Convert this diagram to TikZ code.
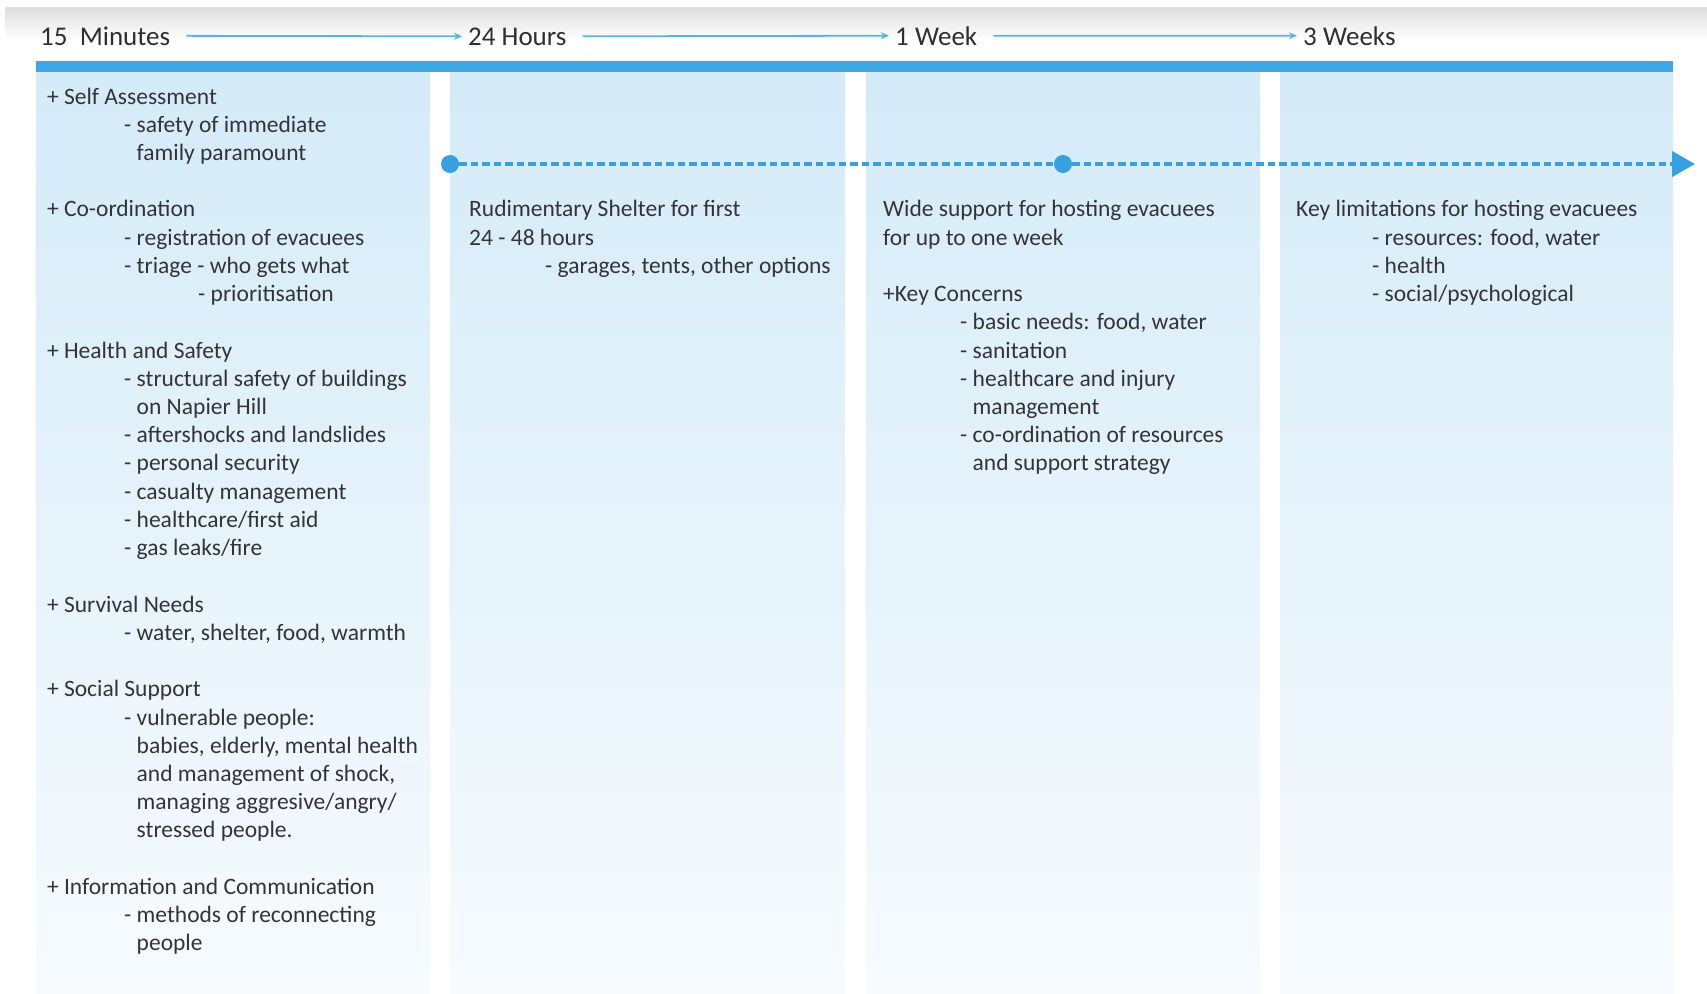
\documentclass[tikz,border=0pt]{standalone}
\usepackage{fontspec}
\setmainfont{Carlito}
\usetikzlibrary{arrows.meta}
\definecolor{barblue}{RGB}{62,168,230}
\definecolor{dashblue}{RGB}{55,160,224}
\definecolor{colTop}{RGB}{212,235,248}
\definecolor{colBot}{RGB}{247,251,254}
\definecolor{txtgray}{RGB}{52,52,56}
\definecolor{hdrline}{RGB}{86,184,214}
\definecolor{greyTop}{RGB}{222,222,222}
\tikzset{
  txt/.style={anchor=base west, inner sep=0pt, text=txtgray, font=\fontsize{23.5}{28}\selectfont},
  hdr/.style={anchor=base west, inner sep=0pt, text=txtgray!90!black, font=\fontsize{27}{32}\selectfont},
  hdrarrow/.style={draw=hdrline, line width=1.8pt, -{Stealth[length=8pt,width=7pt]}, shorten <=16pt, shorten >=6pt},
  column/.style={top color=colTop, bottom color=colBot, draw=none},
  dot/.style={circle, fill=dashblue, minimum size=18pt, inner sep=0pt},
  dashedline/.style={draw=dashblue, line width=4pt, dash pattern=on 7.5pt off 4pt},
}
\newcommand\tline[4]{\node[txt] (#1) at (#2,{104+28.23*#3}) {#4};}
\begin{document}
\begin{tikzpicture}[x=1pt,y=-1pt]
\useasboundingbox (0,0) rectangle (1707,993);
% top grey band
\fill[top color=greyTop, bottom color=white] (5,7) rectangle (1707,40);
% columns
\fill[column] (36,72) rectangle (430,993);
\fill[column] (450,72) rectangle (845,993);
\fill[column] (866,72) rectangle (1260,993);
\fill[column] (1280,72) rectangle (1673,993);
% blue bar
\fill[barblue] (36,61) rectangle (1673,72);
% header
\node[hdr] (h1) at (40,45) {15~~Minutes};
\node[hdr] (h2) at (468,45) {24 Hours};
\node[hdr] (h3) at (895,45) {1 Week};
\node[hdr] (h4) at (1303,45) {3 Weeks};
\draw[hdrarrow] (h1.east) -- (h2.west);
\draw[hdrarrow] (h2.east) -- (h3.west);
\draw[hdrarrow] (h3.east) -- (h4.west);
% dashed timeline
\node[dot] (d1) at (450,164) {};
\node[dot] (d2) at (1063,164) {};
\coordinate (dend) at (1695,164);
\draw[dashedline] (d1) -- (d2);
\draw[dashedline, -{Triangle[length=23pt,width=25pt]}] (d2) -- (dend);
% column 1
\tline{a0}{46.8}{0}{+ Self Assessment}
\tline{a1}{124}{1}{- safety of immediate}
\tline{a2}{124}{2}{\phantom{- }family paramount}
\tline{a4}{46.8}{4}{+ Co-ordination}
\tline{a5}{124}{5}{- registration of evacuees}
\tline{a6}{124}{6}{- triage - who gets what}
\tline{a7}{198}{7}{- prioritisation}
\tline{a9}{46.8}{9}{+ Health and Safety}
\tline{a10}{124}{10}{- structural safety of buildings}
\tline{a11}{124}{11}{\phantom{- }on Napier Hill}
\tline{a12}{124}{12}{- aftershocks and landslides}
\tline{a13}{124}{13}{- personal security}
\tline{a14}{124}{14}{- casualty management}
\tline{a15}{124}{15}{- healthcare/first aid}
\tline{a16}{124}{16}{- gas leaks/fire}
\tline{a18}{46.8}{18}{+ Survival Needs}
\tline{a19}{124}{19}{- water, shelter, food, warmth}
\tline{a21}{46.8}{21}{+ Social Support}
\tline{a22}{124}{22}{- vulnerable people:}
\tline{a23}{124}{23}{\phantom{- }babies, elderly, mental health}
\tline{a24}{124}{24}{\phantom{- }and management of shock,}
\tline{a25}{124}{25}{\phantom{- }managing aggresive/angry/}
\tline{a26}{124}{26}{\phantom{- }stressed people.}
\tline{a28}{46.8}{28}{+ Information and Communication}
\tline{a29}{124}{29}{- methods of reconnecting}
\tline{a30}{124}{30}{\phantom{- }people}
% column 2
\tline{b4}{469}{4}{Rudimentary Shelter for first}
\tline{b5}{469}{5}{24 - 48 hours}
\tline{b6}{545}{6}{- garages, tents, other options}
% column 3
\tline{c4}{883}{4}{Wide support for hosting evacuees}
\tline{c5}{883}{5}{for up to one week}
\tline{c7}{883}{7}{+Key Concerns}
\tline{c8}{960}{8}{- basic needs: food, water}
\tline{c9}{960}{9}{- sanitation}
\tline{c10}{960}{10}{- healthcare and injury}
\tline{c11}{960}{11}{\phantom{- }management}
\tline{c12}{960}{12}{- co-ordination of resources}
\tline{c13}{960}{13}{\phantom{- }and support strategy}
% column 4
\tline{e4}{1296}{4}{Key limitations for hosting evacuees}
\tline{e5}{1372}{5}{- resources: food, water}
\tline{e6}{1372}{6}{- health}
\tline{e7}{1372}{7}{- social/psychological}
\end{tikzpicture}
\end{document}
